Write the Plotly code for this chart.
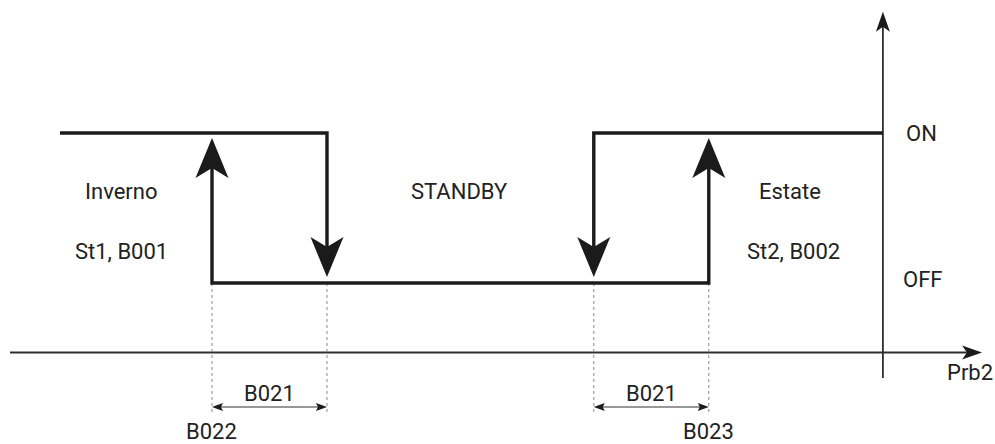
import plotly.graph_objects as go

# switching levels of the output
OFF = 0.0
ON = 1.0

# thresholds on Prb2 (arbitrary units)
B022 = 10.0   # winter set point
B021 = 5.0    # hysteresis width
B023 = 31.6   # summer set point
LINE_START = 3.39
Y_AXIS_AT = 39.17

region_labels = ["Inverno", "STANDBY", "Estate"]
region_x = [6.04, 20.76, 35.13]
setpoint_labels = ["St1, B001", "St2, B002"]
setpoint_x = [6.06, 35.28]
state_labels = ["ON", "OFF"]
state_x = [40.83, 40.91]

X_RANGE = [0.783, 0.783 + 995 / 23]
Y_RANGE = [-1.0733, 1.8867]
W, H = 995, 444
sx = W / (X_RANGE[1] - X_RANGE[0])   # px per x unit
sy = H / (Y_RANGE[1] - Y_RANGE[0])   # px per y unit

INK = "#1b1b1b"
AXIS = "#2e2e2e"
FONT = dict(family="Roboto, Arial, sans-serif", size=22, color="#222222")


def head(tip_x, tip_y, d, length, width, notch):
    # arrowhead polygon, sizes in pixels, d = unit direction (x, y) with y up
    px, py = -d[1], d[0]
    pts = [
        (0, 0),
        (-length * d[0] + width / 2 * px, -length * d[1] + width / 2 * py),
        (-(length - notch) * d[0], -(length - notch) * d[1]),
        (-length * d[0] - width / 2 * px, -length * d[1] - width / 2 * py),
        (0, 0),
    ]
    return go.Scatter(x=[tip_x + a / sx for a, b in pts],
                      y=[tip_y + b / sy for a, b in pts],
                      mode="lines", fill="toself", fillcolor=INK,
                      line=dict(width=0, color=INK), hoverinfo="skip")


def seg(xs, ys, color=INK, width=3.4, dash="solid"):
    return go.Scatter(x=xs, y=ys, mode="lines",
                      line=dict(color=color, width=width, dash=dash),
                      hoverinfo="skip")


fig = go.Figure()

x_axis_y = OFF - 69.5 / sy
y_axis_bottom = OFF - 95 / sy
y_axis_top = ON + 121.3 / sy
dim_y = OFF - 124 / sy
dot_end = OFF - 130 / sy

# axes
fig.add_trace(seg([1.22, 43.48 - 15 / sx], [x_axis_y, x_axis_y], AXIS, 1.8))
fig.add_trace(seg([Y_AXIS_AT, Y_AXIS_AT], [y_axis_bottom, y_axis_top - 15 / sy], AXIS, 1.8))
fig.add_trace(head(43.48, x_axis_y, (1, 0), 20, 14, 5))
fig.add_trace(head(Y_AXIS_AT, y_axis_top, (0, 1), 20, 14, 5))

# dotted guides
for xv in [B022, B022 + B021, B023 - B021, B023]:
    fig.add_trace(seg([xv, xv], [OFF, dot_end], "#8a8a8a", 1, "dot"))

# hysteresis loop
up_tip = ON - 5 / sy
down_tip = OFF + 6 / sy
up_stem = up_tip - 28 / sy
down_stem = down_tip + 28 / sy
fig.add_trace(seg([LINE_START, B022 + B021, B022 + B021], [ON, ON, down_stem]))
fig.add_trace(seg([B022, B022, B023, B023], [up_stem, OFF, OFF, up_stem]))
fig.add_trace(seg([B023 - B021, B023 - B021, Y_AXIS_AT], [down_stem, ON, ON]))
fig.add_trace(head(B022, up_tip, (0, 1), 40, 33, 10))
fig.add_trace(head(B023, up_tip, (0, 1), 40, 33, 10))
fig.add_trace(head(B022 + B021, down_tip, (0, -1), 40, 33, 10))
fig.add_trace(head(B023 - B021, down_tip, (0, -1), 40, 33, 10))

# B021 dimension arrows
for x0 in [B022, B023 - B021]:
    x1 = x0 + B021
    fig.add_trace(seg([x0 + 8 / sx, x1 - 8 / sx], [dim_y, dim_y], "#333333", 1.2))
    fig.add_trace(head(x0, dim_y, (-1, 0), 11, 8, 2))
    fig.add_trace(head(x1, dim_y, (1, 0), 11, 8, 2))
    fig.add_annotation(x=(x0 + x1) / 2, y=OFF - 110 / sy, text="B021",
                       showarrow=False, font=FONT)

fig.add_annotation(x=B022, y=OFF - 148.5 / sy, text="B022", showarrow=False, font=FONT)
fig.add_annotation(x=B023, y=OFF - 148.5 / sy, text="B023", showarrow=False, font=FONT)

for t, xv in zip(region_labels, region_x):
    fig.add_annotation(x=xv, y=ON - 58 / sy, text=t, showarrow=False, font=FONT)
for t, xv in zip(setpoint_labels, setpoint_x):
    fig.add_annotation(x=xv, y=OFF + 32 / sy, text=t, showarrow=False, font=FONT)
fig.add_annotation(x=state_x[0], y=ON, text=state_labels[0], showarrow=False, font=FONT)
fig.add_annotation(x=state_x[1], y=OFF + 3.5 / sy, text=state_labels[1], showarrow=False, font=FONT)
fig.add_annotation(x=42.96, y=x_axis_y - 20 / sy, text="Prb2", showarrow=False, font=FONT)

fig.update_xaxes(range=X_RANGE, visible=False, fixedrange=True)
fig.update_yaxes(range=Y_RANGE, visible=False, fixedrange=True)
fig.update_layout(width=W, height=H, margin=dict(l=0, r=0, t=0, b=0),
                  paper_bgcolor="white", plot_bgcolor="white", showlegend=False)

# the page body has a default 8px margin; drop it so the figure fills the window
fig.write_html("out.html", config={"displayModeBar": False},
               post_script="document.body.style.margin='0';document.body.style.overflow='hidden';")
